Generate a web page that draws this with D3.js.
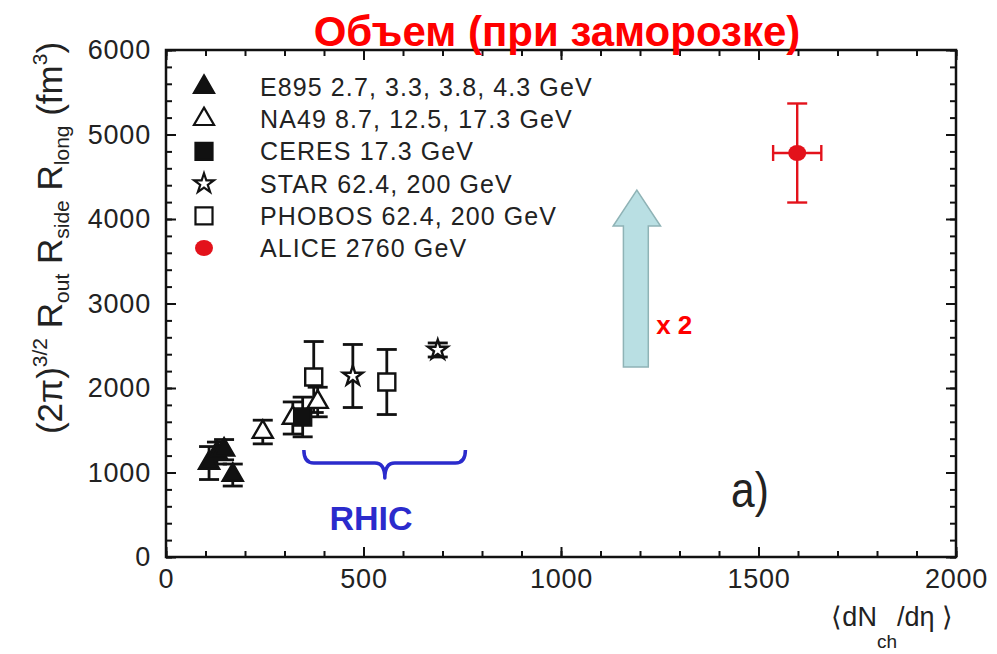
<!DOCTYPE html>
<html>
<head>
<meta charset="utf-8">
<script src="https://cdn.jsdelivr.net/npm/d3@7"></script>
<style>
  body { margin: 0; background: #fff; }
  svg text { font-family: "Liberation Sans", Arial, Helvetica, sans-serif; }
</style>
</head>
<body>
<svg id="chart" width="997" height="654"></svg>
<script>
// ---- axis setup ----
const xDomain = [0, 2000];
const yDomain = [0, 6000];
const xMajorTicks = [0, 500, 1000, 1500, 2000];
const xMinorTicks = d3.range(0, 2001, 100);
const yMajorTicks = [0, 1000, 2000, 3000, 4000, 5000, 6000];
const yMinorTicks = d3.range(0, 6001, 200);

// ---- measurements: multiplicity, volume, volume error ----
const e895X   = [109, 129, 147, 169];
const e895Y   = [1112, 1230, 1270, 970];
const e895Err = [195, 130, 120, 130];

const na49X   = [245, 321, 384];
const na49Y   = [1479, 1645, 1834];
const na49Err = [140, 190, 175];

const ceresX   = [346];
const ceresY   = [1657];
const ceresErr = [235];

const starX   = [473, 688];
const starY   = [2142, 2450];
const starErr = [373, 83];

const phobosX   = [374, 559];
const phobosY   = [2130, 2071];
const phobosErr = [420, 385];

const aliceX    = [1598];
const aliceY    = [4781];
const aliceErr  = [586];
const aliceXErr = [61];

const legendLabels = [
  "E895 2.7, 3.3, 3.8, 4.3 GeV",
  "NA49 8.7, 12.5, 17.3 GeV",
  "CERES 17.3 GeV",
  "STAR 62.4, 200 GeV",
  "PHOBOS 62.4, 200 GeV",
  "ALICE 2760 GeV"
];

// ---- layout ----
const svg = d3.select("#chart");
const plot = { left: 166, right: 956, top: 50, bottom: 557 };
const x = d3.scaleLinear().domain(xDomain).range([plot.left, plot.right]);
const y = d3.scaleLinear().domain(yDomain).range([plot.bottom, plot.top]);

const ALICE_RED = "#e3121b";
const RHIC_BLUE = "#2b2bcc";

// ---- axes (ticks point inward on all four sides) ----
function styleAxis(g) {
  g.select(".domain").remove();
  g.selectAll(".tick line").attr("stroke", "#111").attr("stroke-width", 2);
  g.selectAll(".tick text").attr("fill", "#222")
    .style("font-size", "27px").style("letter-spacing", "0.8px");
}
const MAJ = 10, MIN = 6;

svg.append("g").attr("transform", `translate(0,${plot.bottom})`)
  .call(d3.axisBottom(x).tickValues(xMinorTicks).tickSize(-MIN).tickFormat(""))
  .call(styleAxis);
svg.append("g").attr("transform", `translate(0,${plot.bottom})`)
  .call(d3.axisBottom(x).tickValues(xMajorTicks).tickSize(-MAJ).tickPadding(12).tickFormat(d3.format("d")))
  .call(styleAxis);
svg.append("g").attr("transform", `translate(0,${plot.top})`)
  .call(d3.axisTop(x).tickValues(xMinorTicks).tickSize(-MIN).tickFormat(""))
  .call(styleAxis);
svg.append("g").attr("transform", `translate(0,${plot.top})`)
  .call(d3.axisTop(x).tickValues(xMajorTicks).tickSize(-MAJ).tickFormat(""))
  .call(styleAxis);

svg.append("g").attr("transform", `translate(${plot.left},0)`)
  .call(d3.axisLeft(y).tickValues(yMinorTicks).tickSize(-MIN).tickFormat(""))
  .call(styleAxis);
svg.append("g").attr("transform", `translate(${plot.left},0)`)
  .call(d3.axisLeft(y).tickValues(yMajorTicks).tickSize(-MAJ).tickPadding(15).tickFormat(d3.format("d")))
  .call(styleAxis);
svg.append("g").attr("transform", `translate(${plot.right},0)`)
  .call(d3.axisRight(y).tickValues(yMinorTicks).tickSize(-MIN).tickFormat(""))
  .call(styleAxis);
svg.append("g").attr("transform", `translate(${plot.right},0)`)
  .call(d3.axisRight(y).tickValues(yMajorTicks).tickSize(-MAJ).tickFormat(""))
  .call(styleAxis);

// frame
svg.append("rect")
  .attr("x", plot.left).attr("y", plot.top)
  .attr("width", plot.right - plot.left).attr("height", plot.bottom - plot.top)
  .attr("fill", "none").attr("stroke", "#111").attr("stroke-width", 2.5);

// ---- axis titles ----
const yTitle = svg.append("text")
  .attr("transform", "translate(62,238) rotate(-90)")
  .attr("text-anchor", "middle").attr("fill", "#222").style("font-size", "35px");
[
  ["(2π)", 0, 35], ["3/2", -15, 21], [" R", 15, 35], ["out", 7, 21],
  [" R", -7, 35], ["side", 7, 21], [" R", -7, 35], ["long", 7, 21],
  [" (fm", -7, 35], ["3", -15, 21], [")", 15, 35]
].forEach(([t, dy, fs]) => yTitle.append("tspan").attr("dy", dy).style("font-size", fs + "px").text(t));

const xTitle = svg.append("text")
  .attr("x", 953).attr("y", 626)
  .attr("text-anchor", "end").attr("fill", "#222").style("font-size", "27px");
[["⟨dN", 0, 27], ["ch", 22, 19], ["/dη ⟩", -22, 27]]
  .forEach(([t, dy, fs]) => xTitle.append("tspan").attr("dy", dy).style("font-size", fs + "px").text(t));

// ---- marker shapes ----
const triPath  = d3.symbol(d3.symbolTriangle, 175)();
const sqPath   = d3.symbol(d3.symbolSquare, 290)();
const starPath = d3.symbol(d3.symbolStar, 120)();

function zipSeries(xs, ys, es) { return xs.map((v, i) => ({ x: v, y: ys[i], e: es[i] })); }

function errorBars(data, color, width, cap) {
  const g = svg.append("g").attr("stroke", color).attr("stroke-width", width).attr("fill", "none");
  data.forEach(d => {
    g.append("line").attr("x1", x(d.x)).attr("x2", x(d.x)).attr("y1", y(d.y - d.e)).attr("y2", y(d.y + d.e));
    [d.y - d.e, d.y + d.e].forEach(v =>
      g.append("line").attr("x1", x(d.x) - cap).attr("x2", x(d.x) + cap).attr("y1", y(v)).attr("y2", y(v)));
  });
}
function markers(data, path, fill) {
  svg.append("g").selectAll("path").data(data).join("path")
    .attr("d", path)
    .attr("transform", d => `translate(${x(d.x)},${y(d.y)})`)
    .attr("fill", fill).attr("stroke", "#111").attr("stroke-width", 2.4);
}

const e895 = zipSeries(e895X, e895Y, e895Err);
const na49 = zipSeries(na49X, na49Y, na49Err);
const ceres = zipSeries(ceresX, ceresY, ceresErr);
const star = zipSeries(starX, starY, starErr);
const phobos = zipSeries(phobosX, phobosY, phobosErr);

[e895, na49, ceres, star, phobos].forEach(s => errorBars(s, "#111", 2.8, 10));
markers(na49, triPath, "#fff");
markers(e895, triPath, "#111");
markers(ceres, sqPath, "#111");
markers(phobos, sqPath, "#fff");
markers(star, starPath, "#fff");

// ALICE point with horizontal and vertical errors
const alice = aliceX.map((v, i) => ({ x: v, y: aliceY[i], e: aliceErr[i], ex: aliceXErr[i] }));
errorBars(alice, ALICE_RED, 2.4, 10);
alice.forEach(d => {
  const g = svg.append("g").attr("stroke", ALICE_RED).attr("stroke-width", 2.4);
  g.append("line").attr("x1", x(d.x - d.ex)).attr("x2", x(d.x + d.ex)).attr("y1", y(d.y)).attr("y2", y(d.y));
  [d.x - d.ex, d.x + d.ex].forEach(v =>
    g.append("line").attr("x1", x(v)).attr("x2", x(v)).attr("y1", y(d.y) - 8).attr("y2", y(d.y) + 8));
  svg.append("ellipse").attr("cx", x(d.x)).attr("cy", y(d.y)).attr("rx", 9).attr("ry", 8).attr("fill", ALICE_RED);
});

// ---- legend ----
const legendX = 204, legendTextX = 260, legendTop = 87, legendStep = 32.2;
const legendMarks = [
  g => g.append("path").attr("d", triPath).attr("fill", "#111"),
  g => g.append("path").attr("d", triPath).attr("fill", "#fff"),
  g => g.append("path").attr("d", sqPath).attr("fill", "#111"),
  g => g.append("path").attr("d", starPath).attr("fill", "#fff"),
  g => g.append("path").attr("d", sqPath).attr("fill", "#fff"),
  g => g.append("ellipse").attr("rx", 9).attr("ry", 8).attr("fill", ALICE_RED).attr("stroke", "none")
];
legendLabels.forEach((label, i) => {
  const cy = legendTop + i * legendStep;
  const g = svg.append("g").attr("transform", `translate(${legendX},${cy})`)
    .attr("stroke", "#111").attr("stroke-width", 2.2);
  legendMarks[i](g);
  svg.append("text").attr("x", legendTextX).attr("y", cy + 9)
    .attr("fill", "#222").style("font-size", "25px").style("letter-spacing", "1.1px").text(label);
});

// ---- annotations ----
svg.append("text").attr("x", 557).attr("y", 46).attr("text-anchor", "middle")
  .attr("fill", "#ff0000").style("font-size", "42px").style("font-weight", "bold")
  .text("Объем (при заморозке)");

// growth arrow (data units)
const arrowShaft = [1158, 1221], arrowHead = [1132, 1252], arrowTipY = 4343, arrowBaseY = 3917, arrowBottomY = 2249;
const arrowPts = [
  [arrowShaft[0], arrowBottomY], [arrowShaft[0], arrowBaseY], [arrowHead[0], arrowBaseY],
  [(arrowHead[0] + arrowHead[1]) / 2, arrowTipY], [arrowHead[1], arrowBaseY],
  [arrowShaft[1], arrowBaseY], [arrowShaft[1], arrowBottomY]
];
svg.append("path")
  .attr("d", d3.line().x(d => x(d[0])).y(d => y(d[1]))(arrowPts) + "Z")
  .attr("fill", "#b9dfe3").attr("stroke", "#8fb3b6").attr("stroke-width", 1.5);
svg.append("text").attr("x", x(1241)).attr("y", y(2637))
  .attr("fill", "#ff0000").style("font-size", "26px").style("font-weight", "bold").text("x 2");

// RHIC brace (data units)
const braceX = [349, 554, 758], braceY = [1266, 1112, 935];
const bx0 = x(braceX[0]), bxm = x(braceX[1]), bx1 = x(braceX[2]);
const byTop = y(braceY[0]), byMid = y(braceY[1]), byTip = y(braceY[2]);
const r = 10;
svg.append("path")
  .attr("d", `M${bx0},${byTop} Q${bx0},${byMid} ${bx0 + r},${byMid} L${bxm - r},${byMid} Q${bxm},${byMid} ${bxm},${byTip}` +
             ` Q${bxm},${byMid} ${bxm + r},${byMid} L${bx1 - r},${byMid} Q${bx1},${byMid} ${bx1},${byTop}`)
  .attr("fill", "none").attr("stroke", RHIC_BLUE).attr("stroke-width", 3.5).attr("stroke-linejoin", "round");
svg.append("text").attr("x", x(519)).attr("y", 530).attr("text-anchor", "middle")
  .attr("fill", RHIC_BLUE).style("font-size", "34px").style("font-weight", "bold").text("RHIC");

// panel label
svg.append("text").attr("transform", "translate(731,507) scale(0.85,1)")
  .attr("fill", "#222").style("font-size", "50px").text("a)");
</script>
</body>
</html>
